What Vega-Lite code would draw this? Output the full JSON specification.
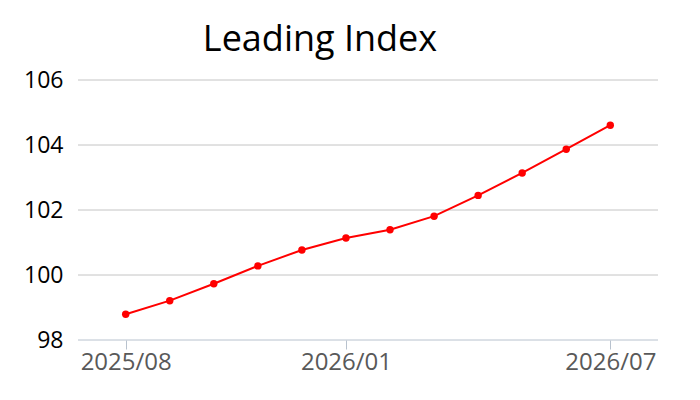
{
  "$schema": "https://vega.github.io/schema/vega-lite/v6.json",
  "autosize": {"type": "none"},
  "width": 580,
  "height": 260,
  "padding": {"left": 78, "top": 80, "right": 42, "bottom": 60},
  "background": "white",
  "config": {"view": {"stroke": null}},
  "title": {
    "text": "Leading Index",
    "font": "Open Sans",
    "fontSize": 36,
    "fontWeight": "normal",
    "color": "black",
    "anchor": "middle",
    "dx": -48,
    "offset": 10
  },
  "layer": [
    {
      "data": {"values": [{"level": 100}, {"level": 102}, {"level": 104}, {"level": 106}]},
      "mark": {"type": "rule", "color": "#c4c4c4", "strokeWidth": 1},
      "encoding": {
        "y": {"field": "level", "type": "quantitative"}
      }
    },
    {
      "data": {"values": [{"level": 98}]},
      "mark": {"type": "rule", "color": "#b8c2ce", "strokeWidth": 1},
      "encoding": {
        "y": {"field": "level", "type": "quantitative"}
      }
    },
    {
      "data": {
        "values": [
          {"month": "2025/08", "index": 98.79},
          {"month": "2025/09", "index": 99.21},
          {"month": "2025/10", "index": 99.73},
          {"month": "2025/11", "index": 100.28},
          {"month": "2025/12", "index": 100.77},
          {"month": "2026/01", "index": 101.14},
          {"month": "2026/02", "index": 101.39},
          {"month": "2026/03", "index": 101.81},
          {"month": "2026/04", "index": 102.45},
          {"month": "2026/05", "index": 103.14},
          {"month": "2026/06", "index": 103.87},
          {"month": "2026/07", "index": 104.61}
        ]
      },
      "mark": {
        "type": "line",
        "color": "#ff0000",
        "strokeWidth": 2,
        "point": {"filled": true, "color": "#ff0000", "size": 55, "opacity": 1}
      },
      "encoding": {
        "x": {
          "field": "month",
          "type": "ordinal",
          "sort": null,
          "scale": {"type": "point", "padding": 0, "range": [47.7, 532.3]},
          "axis": {
            "title": null,
            "values": ["2025/08", "2026/01", "2026/07"],
            "labelAngle": 0,
            "labelFont": "Open Sans",
            "labelFontSize": 24,
            "labelColor": "#595959",
            "labelPadding": 1,
            "tickSize": 9,
            "tickColor": "#b8c2ce",
            "domain": false,
            "grid": false
          }
        },
        "y": {
          "field": "index",
          "type": "quantitative"
        }
      }
    }
  ],
  "resolve": {"scale": {"y": "shared"}},
  "encoding": {
    "y": {
      "type": "quantitative",
      "scale": {"domain": [98, 106], "nice": false, "zero": false},
      "axis": {
        "title": null,
        "values": [98, 100, 102, 104, 106],
        "labelFont": "Open Sans",
        "labelFontSize": 23,
        "labelColor": "black",
        "labelPadding": 15,
        "ticks": false,
        "domain": false,
        "grid": false
      }
    }
  }
}
